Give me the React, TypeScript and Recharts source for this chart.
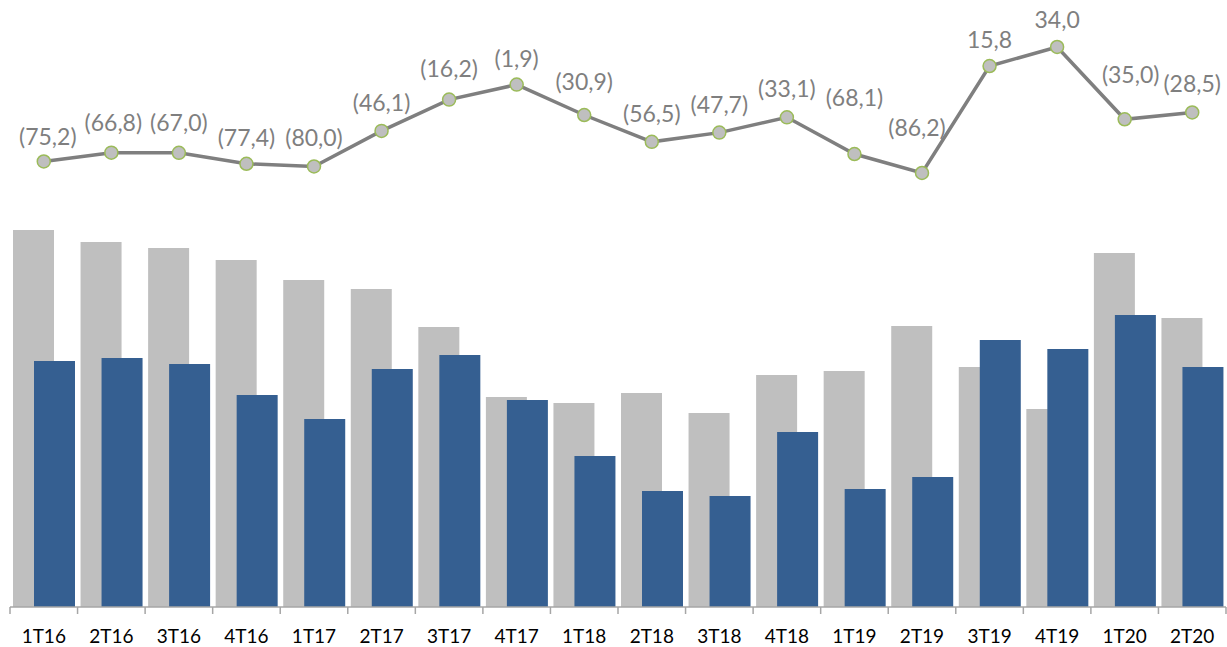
import React from 'react';
import { ComposedChart, Bar, Line, XAxis, YAxis, LabelList } from 'recharts';

const categories = ['1T16', '2T16', '3T16', '4T16', '1T17', '2T17', '3T17', '4T17', '1T18', '2T18', '3T18', '4T18', '1T19', '2T19', '3T19', '4T19', '1T20', '2T20'];
const greyValues = [377, 365, 359, 347, 327, 318, 280, 210, 204, 214, 194, 232, 236, 281, 240, 198, 354, 289];
const blueValues = [246, 249, 243, 212, 188, 238, 252, 207, 151, 116, 111, 175, 118, 130, 267, 258, 292, 240];
const lineValues = [-75.2, -66.8, -67.0, -77.4, -80.0, -46.1, -16.2, -1.9, -30.9, -56.5, -47.7, -33.1, -68.1, -86.2, 15.8, 34.0, -35.0, -28.5];

// label placement nudges (layout only): [dx, dy]
const labelNudge: [number, number][] = [
  [4, 4], [2, -2], [0, -2], [0, 2], [0, 0], [0, 0], [0, -3], [0, 2], [0, -5], [0, 0],
  [0, 0], [0, 0], [0, -28], [-5, -17], [0, 2], [0, 1], [6, -16], [0, 0],
];

const data = categories.map((c, i) => ({ cat: c, grey: greyValues[i], blue: blueValues[i], line: lineValues[i] }));

const fmt = (v: number) => {
  const s = Math.abs(v).toFixed(1).replace('.', ',');
  return v < 0 ? `(${s})` : s;
};

const FONT = 'Lato, Open Sans, sans-serif';

const LineLabel = (props: any) => {
  const { x, y, value, index } = props;
  const n = labelNudge[index] || [0, 0];
  return (
    <text x={x + n[0]} y={y - 29 + n[1]} textAnchor="middle" dominantBaseline="central" fill="#7f7f7f" fontSize={23} fontFamily={FONT}>
      {fmt(value)}
    </text>
  );
};

const AxisTick = (props: any) => {
  const { x, y, payload, index } = props;
  const half = payload && payload.offset ? payload.offset : 33.8;
  const ay = y - 8;
  return (
    <g>
      <line x1={x - half} x2={x - half} y1={ay} y2={ay + 7} stroke="#a6a6a6" strokeWidth={1.5} />
      {index === categories.length - 1 ? (
        <line x1={x + half} x2={x + half} y1={ay} y2={ay + 7} stroke="#a6a6a6" strokeWidth={1.5} />
      ) : null}
      <text x={x} y={ay + 28} textAnchor="middle" dominantBaseline="central" fill="#000" fontSize={19} fontFamily={FONT}>
        {payload.value}
      </text>
    </g>
  );
};

const Dot = (props: any) => {
  const { cx, cy } = props;
  return <circle cx={cx} cy={cy} r={6.5} fill="#bfbfbf" stroke="#9bbb59" strokeWidth={1.5} />;
};

export default function App() {
  return (
    <div style={{ position: 'absolute', left: 0, top: 0, width: 1227, height: 647, background: '#fff' }}>
      <ComposedChart
        width={1227}
        height={647}
        data={data}
        margin={{ top: 0, right: 1, bottom: 0, left: 10 }}
        barGap={-20}
        barSize={41}
      >
        <XAxis
          dataKey="cat"
          height={40}
          axisLine={{ stroke: '#a6a6a6', strokeWidth: 1.5 }}
          tickLine={false}
          tick={<AxisTick />}
          interval={0}
        />
        <YAxis yAxisId="bar" hide domain={[0, 607]} />
        <YAxis yAxisId="line" hide orientation="right" domain={[-500.2, 78.8]} />
        <Bar yAxisId="bar" dataKey="grey" fill="#bfbfbf" isAnimationActive={false} />
        <Bar yAxisId="bar" dataKey="blue" fill="#355f91" isAnimationActive={false} />
        <Line
          yAxisId="line"
          dataKey="line"
          type="linear"
          stroke="#7f7f7f"
          strokeWidth={3.5}
          dot={<Dot />}
          activeDot={false}
          isAnimationActive={false}
        >
          <LabelList dataKey="line" content={<LineLabel />} />
        </Line>
      </ComposedChart>
    </div>
  );
}
